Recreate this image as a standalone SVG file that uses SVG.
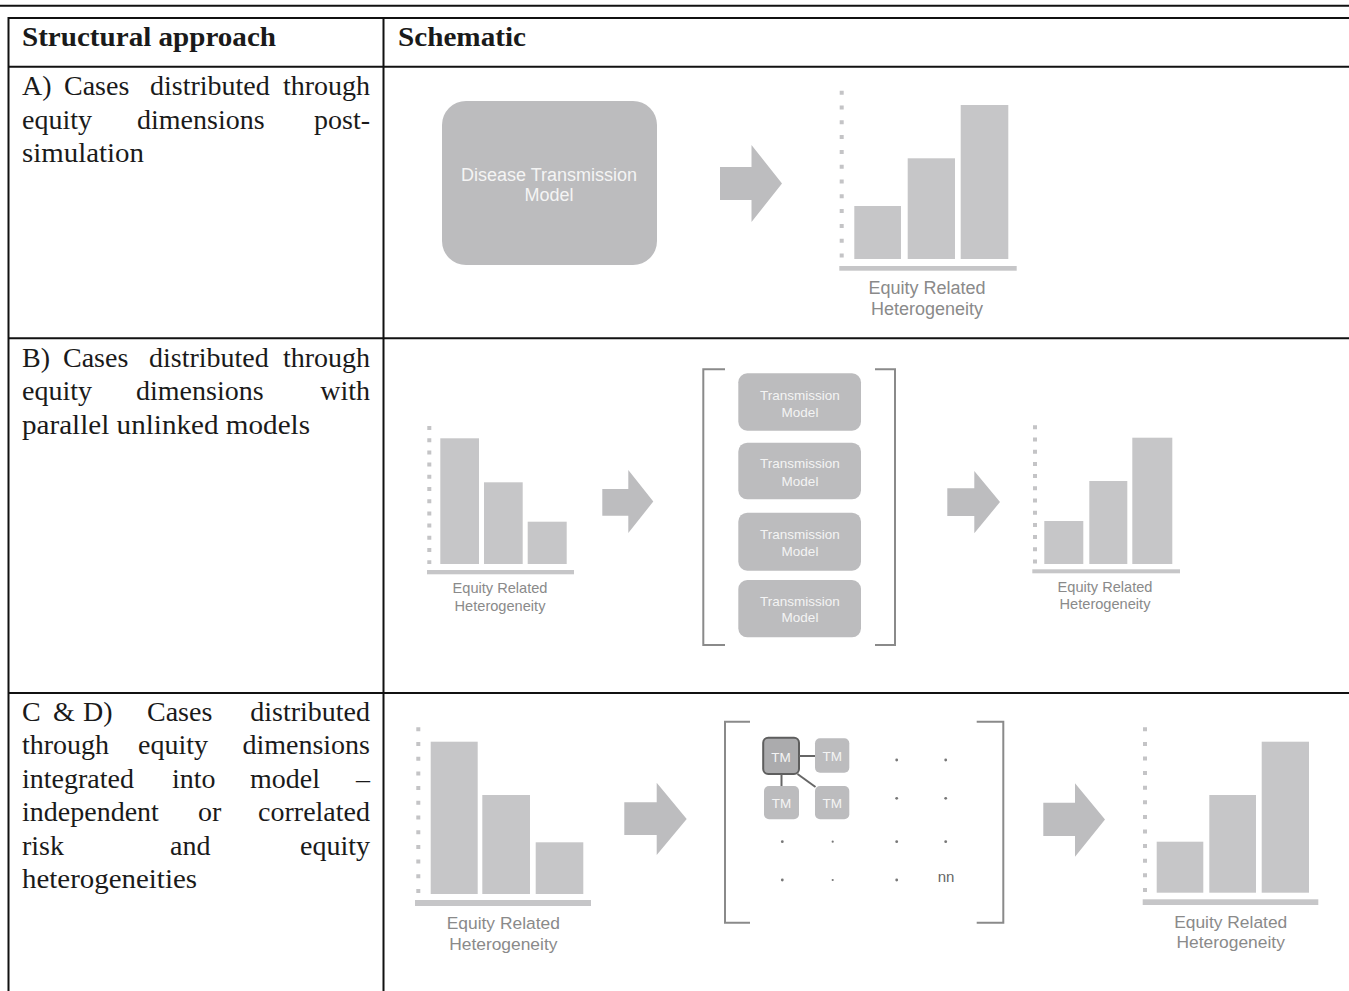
<svg xmlns="http://www.w3.org/2000/svg" width="1349" height="991" viewBox="0 0 1349 991">
<style>
.rule{stroke:#111;stroke-width:2;fill:none}
.t{font-family:"Liberation Serif","Times New Roman",serif;font-size:28px;fill:#1a1a1a}
.h{font-family:"Liberation Serif","Times New Roman",serif;font-size:28px;font-weight:bold;fill:#1a1a1a}
.e{text-anchor:end}
.bar{fill:#c6c6c8}
.axis{fill:#c6c6c8}
.dots{stroke:#c4c4c6;stroke-width:4;fill:none}
.arr{fill:#bdbdbf}
.lbl{font-family:"Liberation Sans",Arial,sans-serif;fill:#8a8a8a;text-anchor:middle}
.box{fill:#bcbcbe}
.wt{font-family:"Liberation Sans",Arial,sans-serif;fill:#f4f4f4;text-anchor:middle}
.brk{stroke:#8a8a8a;stroke-width:2;fill:none}
.lnk{stroke:#666;stroke-width:2;fill:none}
.dot{fill:#777}
</style>
<rect width="1349" height="991" fill="#fff"/>
<g id="table">
<line x1="0" y1="5.8" x2="1349" y2="5.8" class="rule" stroke-width="2.5"/>
<line x1="8" y1="18" x2="1349" y2="18" class="rule"/>
<line x1="8.5" y1="17" x2="8.5" y2="991" class="rule" stroke-width="2.2"/>
<line x1="383.5" y1="17" x2="383.5" y2="991" class="rule"/>
<line x1="8" y1="66.8" x2="1349" y2="66.8" class="rule"/>
<line x1="8" y1="338.3" x2="1349" y2="338.3" class="rule"/>
<line x1="8" y1="693" x2="1349" y2="693" class="rule"/>
</g>
<g id="header">
<text class="h" x="22" y="46" textLength="254" lengthAdjust="spacingAndGlyphs">Structural approach</text>
<text class="h" x="398" y="46" textLength="128" lengthAdjust="spacingAndGlyphs">Schematic</text>
</g>
<g id="rowA-text" class="t">
<text x="22" y="95">A)</text><text x="64" y="95">Cases</text><text x="150" y="95">distributed</text><text class="e" x="370" y="95">through</text>
<text x="22" y="128.5">equity</text><text x="137" y="128.5">dimensions</text><text class="e" x="370" y="128.5">post-</text>
<text x="22" y="162" textLength="122" lengthAdjust="spacingAndGlyphs">simulation</text>
</g>
<g id="rowB-text" class="t">
<text x="22" y="366.7">B)</text><text x="63" y="366.7">Cases</text><text x="149" y="366.7">distributed</text><text class="e" x="370" y="366.7">through</text>
<text x="22" y="400.2">equity</text><text x="136" y="400.2">dimensions</text><text class="e" x="370" y="400.2">with</text>
<text x="22" y="433.7" textLength="288" lengthAdjust="spacingAndGlyphs">parallel unlinked models</text>
</g>
<g id="rowC-text" class="t">
<text x="22" y="720.5">C</text><text x="53" y="720.5">&amp;</text><text x="83" y="720.5">D)</text><text x="147" y="720.5">Cases</text><text class="e" x="370" y="720.5">distributed</text>
<text x="22" y="754">through</text><text x="138" y="754">equity</text><text class="e" x="370" y="754">dimensions</text>
<text x="22" y="787.5">integrated</text><text x="172" y="787.5">into</text><text x="250" y="787.5">model</text><text class="e" x="370" y="787.5">–</text>
<text x="22" y="821">independent</text><text x="198" y="821">or</text><text class="e" x="370" y="821">correlated</text>
<text x="22" y="854.5">risk</text><text x="170" y="854.5">and</text><text class="e" x="370" y="854.5">equity</text>
<text x="22" y="888" textLength="175" lengthAdjust="spacingAndGlyphs">heterogeneities</text>
</g>

<g id="A-model">
<rect x="442" y="101" width="215" height="164" rx="24" class="box"/>
<text class="wt" x="549" y="181" font-size="18">Disease Transmission</text>
<text class="wt" x="549" y="201" font-size="18">Model</text>
</g>
<g id="A-chart">
<line class="dots" x1="841.7" y1="90.7" x2="841.7" y2="257.7" stroke-dasharray="4 10.8"/>
<rect class="bar" x="854.3" y="206" width="46.7" height="53"/>
<rect class="bar" x="907.7" y="158.3" width="47.3" height="100.7"/>
<rect class="bar" x="960.7" y="105" width="47.6" height="154"/>
<rect class="axis" x="839.3" y="266" width="177.4" height="4.7"/>
<text class="lbl" x="927" y="294" font-size="18">Equity Related</text>
<text class="lbl" x="927" y="315" font-size="18">Heterogeneity</text>
</g>

<g id="B-chart-left">
<line class="dots" x1="429.3" y1="426" x2="429.3" y2="564" stroke-dasharray="4 8.2"/>
<rect class="bar" x="440.3" y="438.3" width="38.7" height="125.7"/>
<rect class="bar" x="484" y="482.3" width="38.7" height="81.7"/>
<rect class="bar" x="527.7" y="521.7" width="39" height="42.3"/>
<rect class="axis" x="427" y="570" width="147" height="4.3"/>
<text class="lbl" x="500" y="593" font-size="14.6">Equity Related</text>
<text class="lbl" x="500" y="610.5" font-size="14.6">Heterogeneity</text>
</g>
<g id="B-models">
<path class="brk" d="M725 369.3 H703.3 V645 H725"/>
<path class="brk" d="M875 369.3 H895 V645 H875"/>
<rect x="738.3" y="373.3" width="122.7" height="57.4" rx="9" class="box"/>
<rect x="738.3" y="442.7" width="122.7" height="56.6" rx="9" class="box"/>
<rect x="738.3" y="512.7" width="122.7" height="58" rx="9" class="box"/>
<rect x="738.3" y="580" width="122.7" height="57.3" rx="9" class="box"/>
<g font-size="13.5">
<text class="wt" x="800" y="399.8">Transmission</text><text class="wt" x="800" y="416.5">Model</text>
<text class="wt" x="800" y="468">Transmission</text><text class="wt" x="800" y="485.5">Model</text>
<text class="wt" x="800" y="538.8">Transmission</text><text class="wt" x="800" y="555.5">Model</text>
<text class="wt" x="800" y="605.5">Transmission</text><text class="wt" x="800" y="622">Model</text>
</g>
</g>
<g id="B-chart-right">
<line class="dots" x1="1035" y1="425.3" x2="1035" y2="563.7" stroke-dasharray="4 8.2"/>
<rect class="bar" x="1044.3" y="521" width="39" height="43"/>
<rect class="bar" x="1089.3" y="481" width="38" height="83"/>
<rect class="bar" x="1132.3" y="437.7" width="40" height="126.3"/>
<rect class="axis" x="1032.3" y="569.3" width="147.7" height="4"/>
<text class="lbl" x="1105" y="592" font-size="14.6">Equity Related</text>
<text class="lbl" x="1105" y="609" font-size="14.6">Heterogeneity</text>
</g>

<g id="C-chart-left">
<line class="dots" x1="418.3" y1="727.3" x2="418.3" y2="893" stroke-dasharray="4 10.7"/>
<rect class="bar" x="430.7" y="741.7" width="47" height="152.3"/>
<rect class="bar" x="482.3" y="795" width="47.7" height="99"/>
<rect class="bar" x="535.7" y="842.3" width="47.6" height="51.7"/>
<rect class="axis" x="415" y="900" width="176" height="6"/>
<text class="lbl" x="503.3" y="929" font-size="17.4">Equity Related</text>
<text class="lbl" x="503.3" y="949.5" font-size="17.4">Heterogeneity</text>
</g>
<g id="C-matrix">
<path class="brk" d="M750 721.7 H725 V922.7 H750"/>
<path class="brk" d="M976.7 721.7 H1003.3 V922.7 H976.7"/>
<rect x="815" y="738.3" width="34.3" height="34.4" rx="5" class="box"/>
<rect x="764" y="786" width="35" height="33.3" rx="5" class="box"/>
<rect x="815" y="786" width="34.3" height="33.3" rx="5" class="box"/>
<rect x="763.2" y="737.8" width="35.8" height="36.2" rx="5" fill="#ababad" stroke="#5e5e5e" stroke-width="2"/>
<g font-size="13.5">
<text class="wt" x="781" y="762">TM</text>
<text class="wt" x="832.2" y="761">TM</text>
<text class="wt" x="781.5" y="807.5">TM</text>
<text class="wt" x="832.2" y="807.5">TM</text>
</g>
<circle class="dot" cx="896.7" cy="760" r="1.4"/><circle class="dot" cx="945.7" cy="760" r="1.4"/>
<circle class="dot" cx="896.7" cy="798.3" r="1.4"/><circle class="dot" cx="945.7" cy="798.3" r="1.4"/>
<circle class="dot" cx="782.3" cy="841.7" r="1.4"/><circle class="dot" cx="832.7" cy="841.7" r="1.1" fill="#999"/><circle class="dot" cx="896.7" cy="841.7" r="1.4"/><circle class="dot" cx="945.7" cy="841.7" r="1.4"/>
<circle class="dot" cx="782.3" cy="880" r="1.4"/><circle class="dot" cx="832.7" cy="880" r="1.1" fill="#999"/><circle class="dot" cx="896.7" cy="880" r="1.4"/>
<text x="946" y="882" font-family="'Liberation Sans',Arial,sans-serif" font-size="15" fill="#666" text-anchor="middle">nn</text>
</g>
<g id="C-chart-right">
<line class="dots" x1="1145" y1="727.3" x2="1145" y2="892" stroke-dasharray="4 10.6"/>
<rect class="bar" x="1156.7" y="841.7" width="46.6" height="51"/>
<rect class="bar" x="1209.3" y="795" width="46.7" height="97.7"/>
<rect class="bar" x="1261.7" y="741.7" width="47.3" height="151"/>
<rect class="axis" x="1142.7" y="899.3" width="175.6" height="5.7"/>
<text class="lbl" x="1230.7" y="928" font-size="17.4">Equity Related</text>
<text class="lbl" x="1230.7" y="948.3" font-size="17.4">Heterogeneity</text>
</g>

<g id="connectors">
<polygon class="arr" points="720,167 751.5,167 751.5,145 782,183.5 751.5,222 751.5,200 720,200"/>
<polygon class="arr" points="602.3,489 628.3,489 628.3,470 653.3,501.5 628.3,533 628.3,515.7 602.3,515.7"/>
<polygon class="arr" points="947.3,488.3 974.3,488.3 974.3,471 1000,502 974.3,533.3 974.3,516 947.3,516"/>
<polygon class="arr" points="624.3,802.3 656.7,802.3 656.7,782.7 686.7,819 656.7,855 656.7,835 624.3,835"/>
<polygon class="arr" points="1043.3,802.7 1075,802.7 1075,783.3 1105,819.5 1075,856.7 1075,836 1043.3,836"/>
<line class="lnk" x1="799" y1="756" x2="815" y2="756"/>
<line class="lnk" x1="781.5" y1="774" x2="781.5" y2="786"/>
<line class="lnk" x1="797.5" y1="774" x2="815.5" y2="787"/>
</g>
</svg>
